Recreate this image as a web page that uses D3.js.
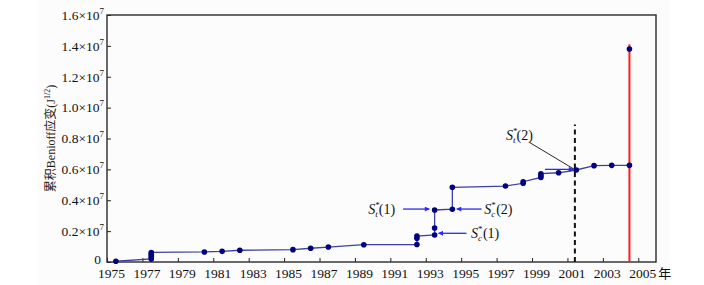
<!DOCTYPE html>
<html>
<head>
<meta charset="utf-8">
<script src="https://cdn.jsdelivr.net/npm/d3@7"></script>
<style>
  body { margin: 0; background: #ffffff; }
  svg { display: block; }
</style>
</head>
<body>
<div id="plot_area"></div>
<script>
// svg size
const w = 704;
const h = 285;

// event times (decimal year) and cumulative Benioff strain
const years = [1975.5, 1977.5, 1977.5, 1977.5, 1977.5, 1977.5, 1980.5, 1981.5, 1982.5,
               1985.5, 1986.5, 1987.5, 1989.5, 1992.5, 1992.5, 1992.5,
               1993.5, 1993.5, 1993.5, 1994.5, 1994.5, 1997.5, 1998.5, 1998.5,
               1999.5, 1999.5, 1999.5, 2000.5, 2001.5, 2002.5, 2003.5, 2004.5];
const strain = [0.05e6, 0.2e6, 0.3e6, 0.42e6, 0.52e6, 0.62e6, 0.65e6, 0.69e6, 0.76e6,
                0.8e6, 0.89e6, 0.97e6, 1.12e6, 1.13e6, 1.54e6, 1.68e6,
                1.75e6, 2.2e6, 3.37e6, 3.42e6, 4.84e6, 4.92e6, 5.1e6, 5.2e6,
                5.48e6, 5.6e6, 5.72e6, 5.78e6, 5.96e6, 6.24e6, 6.26e6, 6.26e6];

// the 2004 great event (red line) and its strain point
const bigYear = 2004.5;
const bigStrain = 1.38e7;
const bigTop = 1.41e7;

// critical time marker (dashed)
const critYear = 2001.42;
const critTop = 8.9e6;

const xTicks = d3.range(1975, 2006, 2);
const yTicks = [0, 0.2e7, 0.4e7, 0.6e7, 0.8e7, 1.0e7, 1.2e7, 1.4e7, 1.6e7];

const serif = '"Times New Roman", "Liberation Serif", serif';
const cjk = '"Noto Sans CJK SC", sans-serif';

const padL = 107, padR = 656, padT = 15, padB = 262;

const xScale = d3.scaleLinear().domain([1975, 2006]).range([padL, padR]);
const yScale = d3.scaleLinear().domain([0, 1.6e7]).range([padB, padT]);

const svg = d3.select('#plot_area')
              .append('svg')
              .attr('width', w)
              .attr('height', h);

svg.append('rect')
   .attr('x', 38).attr('y', 0)
   .attr('width', 632).attr('height', h)
   .attr('fill', '#fcfcfc');

svg.append('defs').append('marker')
   .attr('id', 'ahead')
   .attr('viewBox', '0 0 10 10')
   .attr('refX', 9).attr('refY', 5)
   .attr('markerWidth', 6).attr('markerHeight', 5)
   .attr('markerUnits', 'userSpaceOnUse')
   .attr('orient', 'auto')
   .append('path')
   .attr('d', 'M0,0L10,5L0,10z')
   .attr('fill', '#2a2af0');

// x axis (ticks inward)
const xAxis = svg.append('g')
   .attr('transform', 'translate(0,' + padB + ')')
   .call(d3.axisBottom(xScale).tickValues(xTicks).tickSizeInner(-4).tickSizeOuter(0).tickFormat(d3.format('d')));
xAxis.select('.domain').remove();
xAxis.selectAll('line').attr('stroke', '#222');
xAxis.selectAll('text')
     .attr('y', 6).attr('dy', '0.71em').attr('dx', 4)
     .style('font-family', serif).style('font-size', '13.5px').attr('fill', '#111');

svg.append('text')
   .attr('x', xScale(2005) + 20).attr('y', padB + 16)
   .style('font-family', cjk).style('font-size', '13px').attr('fill', '#111')
   .text('年');

// y axis (ticks inward), labels as a.b×10^7
const yAxis = svg.append('g')
   .attr('transform', 'translate(' + padL + ',0)')
   .call(d3.axisLeft(yScale).tickValues(yTicks).tickSizeInner(-4).tickSizeOuter(0).tickFormat(''));
yAxis.select('.domain').remove();
yAxis.selectAll('line').attr('stroke', '#222');
yAxis.selectAll('text')
     .attr('x', -3)
     .style('font-family', serif).style('font-size', '13.5px').attr('fill', '#111')
     .each(function (d) {
        const t = d3.select(this);
        if (d === 0) { t.attr('x', -6).attr('dy', '0.1em').text('0'); return; }
        t.append('tspan').text((d / 1e7).toFixed(1) + '×10');
        t.append('tspan').attr('dy', -6).style('font-size', '9px').text('7');
     });

// frame
svg.append('rect')
   .attr('x', padL).attr('y', padT)
   .attr('width', padR - padL).attr('height', padB - padT)
   .attr('fill', 'none').attr('stroke', '#2b2b2b').attr('stroke-width', 1.4);

// y title
const yt = svg.append('text')
   .attr('text-anchor', 'middle')
   .attr('transform', 'translate(55,' + ((padT + padB) / 2) + ')rotate(-90)')
   .style('font-size', '12px').attr('fill', '#222');
yt.append('tspan').style('font-family', cjk).text('累积');
yt.append('tspan').style('font-family', serif).text('Benioff');
yt.append('tspan').style('font-family', cjk).text('应变');
yt.append('tspan').style('font-family', serif).text('(J');
yt.append('tspan').style('font-family', serif).style('font-size', '8px').attr('dy', -5).text('1/2');
yt.append('tspan').style('font-family', serif).attr('dy', 5).text(')');

// red line for the big event
svg.append('line')
   .attr('x1', xScale(bigYear)).attr('x2', xScale(bigYear))
   .attr('y1', yScale(0)).attr('y2', yScale(bigTop))
   .attr('stroke', '#ff1a1a').attr('stroke-width', 2);

// dashed critical line
svg.append('line')
   .attr('x1', xScale(critYear)).attr('x2', xScale(critYear))
   .attr('y1', yScale(0)).attr('y2', yScale(critTop))
   .attr('stroke', '#111').attr('stroke-width', 2)
   .attr('stroke-dasharray', '5,3.5');

// cumulative strain curve
const pts = years.map((y, i) => [y, strain[i]]);
svg.append('path')
   .datum(pts)
   .attr('fill', 'none')
   .attr('stroke', '#3f3fa0')
   .attr('stroke-width', 1.3)
   .attr('d', d3.line().x((d) => xScale(d[0])).y((d) => yScale(d[1])));

svg.selectAll('circle.pt')
   .data(pts.concat([[bigYear, bigStrain]]))
   .enter()
   .append('circle')
   .attr('class', 'pt')
   .attr('cx', (d) => xScale(d[0]))
   .attr('cy', (d) => yScale(d[1]))
   .attr('r', 2.8)
   .attr('fill', '#000080');

// annotations
function arrow(x1, x2, v) {
  svg.append('line')
     .attr('x1', xScale(x1)).attr('x2', xScale(x2))
     .attr('y1', yScale(v)).attr('y2', yScale(v))
     .attr('stroke', '#2a2af0').attr('stroke-width', 1.3)
     .attr('marker-end', 'url(#ahead)');
}

function sLabel(x, v, sub, num) {
  const t = svg.append('text')
     .attr('x', xScale(x)).attr('y', yScale(v) + 5)
     .style('font-family', serif).style('font-size', '14px').attr('fill', '#111');
  t.append('tspan').style('font-style', 'italic').text('S');
  t.append('tspan').style('font-size', '9px').attr('dy', -6).text('*');
  t.append('tspan').style('font-size', '9px').style('font-style', 'italic').attr('dx', -4.5).attr('dy', 9).text(sub);
  t.append('tspan').attr('dx', 1).attr('dy', -3).text('(' + num + ')');
}

arrow(1991.72, 1993.2, 3.43e6);
sLabel(1989.75, 3.43e6, 't', 1);

arrow(1996.15, 1994.75, 3.43e6);
sLabel(1996.3, 3.43e6, 'c', 2);

arrow(1995.3, 1993.72, 1.86e6);
sLabel(1995.55, 1.86e6, 'c', 1);

arrow(1999.73, 2001.33, 6.0e6);
svg.append('line')
   .attr('x1', xScale(1998.85)).attr('y1', yScale(7.75e6))
   .attr('x2', xScale(2001.45)).attr('y2', yScale(5.96e6))
   .attr('stroke', '#111').attr('stroke-width', 0.9);
sLabel(1997.53, 8.2e6, 't', 2);
</script>
</body>
</html>
